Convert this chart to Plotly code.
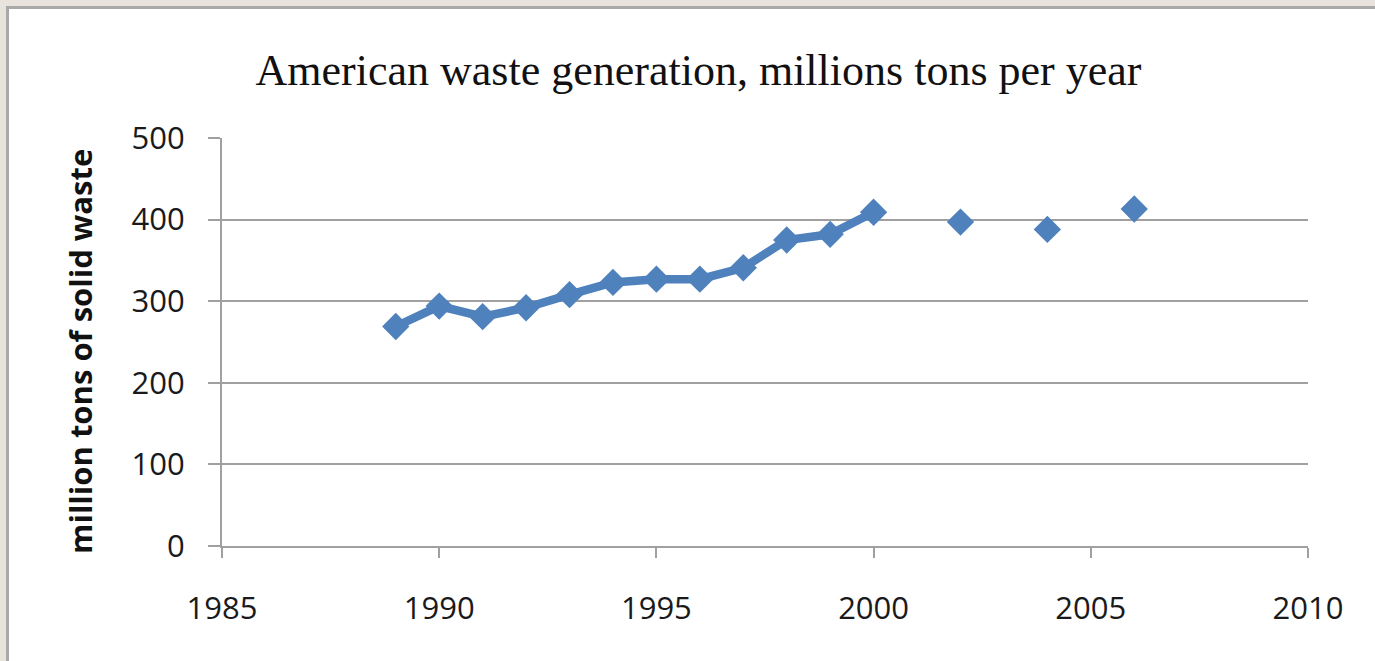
import plotly.graph_objects as go

# Municipal solid waste generated in the US, million tons per year
years_annual = [1989, 1990, 1991, 1992, 1993, 1994, 1995, 1996, 1997, 1998, 1999, 2000]
waste_annual = [269, 294, 281, 292, 308, 323, 327, 327, 341, 375, 382, 409]
years_biennial = [2002, 2004, 2006]
waste_biennial = [397, 388, 413]

x_ticks = [1985, 1990, 1995, 2000, 2005, 2010]
y_ticks = [0, 100, 200, 300, 400, 500]

W, H = 1375, 661
L, R, T, B = 222, 67, 138, 115
pw, ph = W - L - R, H - T - B

BLUE = "#4f81bd"
GRID = "#a0a0a0"

fig = go.Figure()
fig.add_trace(go.Scatter(
    x=years_annual, y=waste_annual, mode="lines+markers",
    line=dict(color=BLUE, width=8.5),
    marker=dict(symbol="diamond", size=21, color=BLUE),
    hoverinfo="x+y", showlegend=False,
))
fig.add_trace(go.Scatter(
    x=years_biennial, y=waste_biennial, mode="markers",
    marker=dict(symbol="diamond", size=21, color=BLUE),
    hoverinfo="x+y", showlegend=False,
))


def px_x(p):
    return (p - L) / pw


def px_y(p):
    return (H - B - p) / ph


# white chart panel with a thin grey frame on the beige page
fig.add_shape(
    type="rect", xref="paper", yref="paper", layer="below",
    x0=px_x(7.5), x1=px_x(W + 40), y0=px_y(H + 40), y1=px_y(7.5),
    fillcolor="white", line=dict(color="#a9a9a9", width=3),
)

fig.add_annotation(
    text="<b>million tons of solid waste</b>", textangle=-90,
    xref="paper", yref="paper", x=px_x(80), y=px_y(352),
    xanchor="center", yanchor="middle", showarrow=False,
    font=dict(family="Open Sans", size=31, color="#111111"),
)

fig.update_layout(
    width=W, height=H,
    margin=dict(l=L, r=R, t=T, b=B),
    paper_bgcolor="#e8e4dd",
    plot_bgcolor="white",
    title=dict(
        text="American waste generation, millions tons per year",
        x=0.508, xanchor="center", xref="container",
        y=1 - 70 / H, yanchor="middle", yref="container",
        font=dict(family="Liberation Serif", size=44, color="#111111"),
    ),
    xaxis=dict(
        range=[1985, 2010], tickvals=x_ticks, ticktext=[str(v) for v in x_ticks],
        showgrid=False, zeroline=False,
        showline=True, linecolor=GRID, linewidth=2,
        ticks="outside", ticklen=10, tickwidth=2, tickcolor=GRID,
        ticklabelstandoff=24,
        tickfont=dict(family="Open Sans", size=31, color="#1a1a1a"),
    ),
    yaxis=dict(
        range=[0, 500], tickvals=y_ticks, ticktext=[str(v) for v in y_ticks],
        showgrid=True, gridcolor=GRID, gridwidth=2, zeroline=False,
        showline=True, linecolor=GRID, linewidth=2,
        ticks="outside", ticklen=12, tickwidth=2, tickcolor=GRID,
        ticklabelstandoff=17,
        tickfont=dict(family="Open Sans", size=31, color="#1a1a1a"),
    ),
)

fig.write_html("out.html")
